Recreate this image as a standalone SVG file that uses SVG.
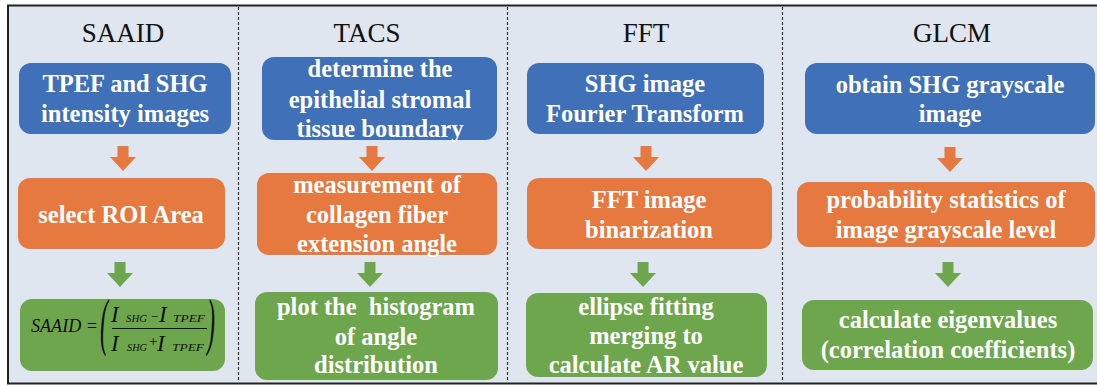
<svg xmlns="http://www.w3.org/2000/svg" xmlns:xlink="http://www.w3.org/1999/xlink" width="1097" height="386" viewBox="0 0 1097 386">
  <style>
    .title { font-family: "Liberation Serif", "Times New Roman", serif; font-size: 27px; fill: #111; text-anchor: middle; }
    .lbl { font-family: "Liberation Serif", "Times New Roman", serif; font-size: 24.5px; font-weight: bold; fill: #fff; text-anchor: middle; }
    .blue { fill: #4070b8; }
    .orange { fill: #e6793f; }
    .green { fill: #6ea64e; }
    .divider { stroke: #333; stroke-width: 1.2; stroke-dasharray: 3 2; fill: none; }
    .math { font-family: "Liberation Serif", "Times New Roman", serif; font-style: italic; fill: #111; }
  </style>
  <defs>
    <!-- block arrow pointing down, origin at top centre -->
    <path id="arrow" d="M-5.5,0 H5.5 V11 H13 L0,25 L-13,11 H-5.5 Z"/>
  </defs>

  <rect x="0" y="0" width="1097" height="386" fill="#ffffff"/>
  <rect x="8" y="5.5" width="1100" height="378" fill="#dfe6ef" stroke="#222" stroke-width="2"/>

  <!-- column separators -->
  <g id="dividers">
    <line class="divider" x1="238.5" y1="7" x2="238.5" y2="382"/>
    <line class="divider" x1="507.5" y1="7" x2="507.5" y2="382"/>
    <line class="divider" x1="782.5" y1="7" x2="782.5" y2="382"/>
  </g>

  <!-- column headings -->
  <g id="titles">
    <text class="title" x="123" y="42">SAAID</text>
    <text class="title" x="367" y="42">TACS</text>
    <text class="title" x="646" y="42">FFT</text>
    <text class="title" x="952" y="42">GLCM</text>
  </g>

  <!-- SAAID column -->
  <g id="saaid-input">
    <rect class="blue" x="19" y="63" width="212" height="71" rx="12"/>
    <text class="lbl" x="125" y="92">TPEF and SHG</text>
    <text class="lbl" x="125" y="122">intensity images</text>
  </g>
  <g id="saaid-roi">
    <rect class="orange" x="18" y="178" width="207" height="71" rx="12"/>
    <text class="lbl" x="121" y="223">select ROI Area</text>
  </g>
  <g id="saaid-formula">
    <rect class="green" x="20" y="299" width="205" height="72" rx="12"/>
    <text class="math" x="31" y="332" font-size="18" textLength="67" lengthAdjust="spacingAndGlyphs">SAAID =</text>
    <text class="math" font-size="24" transform="translate(100,343) scale(1,2.6)" font-style="normal">(</text>
    <text class="math" font-size="24" transform="translate(207,343) scale(1,2.6)" font-style="normal">)</text>
    <line x1="112" y1="328.5" x2="207" y2="328.5" stroke="#111" stroke-width="1.1"/>
    <text class="math" font-size="23" x="111" y="322">I</text>
    <text class="math" font-size="10" x="126" y="322" textLength="21" lengthAdjust="spacingAndGlyphs">SHG</text>
    <text class="math" font-size="13" x="150" y="321" font-style="normal">−</text>
    <text class="math" font-size="23" x="159" y="322">I</text>
    <text class="math" font-size="10" x="173" y="322" textLength="32" lengthAdjust="spacingAndGlyphs">TPEF</text>
    <text class="math" font-size="23" x="111" y="351">I</text>
    <text class="math" font-size="10" x="127" y="351" textLength="20" lengthAdjust="spacingAndGlyphs">SHG</text>
    <text class="math" font-size="15" x="148" y="346" font-style="normal">+</text>
    <text class="math" font-size="23" x="157" y="351">I</text>
    <text class="math" font-size="10" x="172" y="351" textLength="32" lengthAdjust="spacingAndGlyphs">TPEF</text>
  </g>

  <!-- TACS column -->
  <g id="tacs-boundary">
    <rect class="blue" x="262" y="57" width="235" height="83" rx="12"/>
    <text class="lbl" x="380" y="77">determine the</text>
    <text class="lbl" x="380" y="108">epithelial stromal</text>
    <text class="lbl" x="380" y="137">tissue boundary</text>
  </g>
  <g id="tacs-angle">
    <rect class="orange" x="257" y="173" width="240" height="82" rx="12"/>
    <text class="lbl" x="377" y="193">measurement of</text>
    <text class="lbl" x="377" y="223">collagen fiber</text>
    <text class="lbl" x="377" y="252">extension angle</text>
  </g>
  <g id="tacs-histogram">
    <rect class="green" x="255" y="292" width="243" height="88" rx="12"/>
    <text class="lbl" x="376" y="315" xml:space="preserve">plot the  histogram</text>
    <text class="lbl" x="376" y="345">of angle</text>
    <text class="lbl" x="376" y="373">distribution</text>
  </g>

  <!-- FFT column -->
  <g id="fft-transform">
    <rect class="blue" x="527" y="63" width="237" height="71" rx="12"/>
    <text class="lbl" x="645" y="92">SHG image</text>
    <text class="lbl" x="645" y="122">Fourier Transform</text>
  </g>
  <g id="fft-binarize">
    <rect class="orange" x="527" y="178" width="245" height="71" rx="12"/>
    <text class="lbl" x="649" y="208">FFT image</text>
    <text class="lbl" x="649" y="238">binarization</text>
  </g>
  <g id="fft-ellipse">
    <rect class="green" x="526" y="293" width="241" height="84" rx="12"/>
    <text class="lbl" x="646" y="315">ellipse fitting</text>
    <text class="lbl" x="646" y="344">merging to</text>
    <text class="lbl" x="646" y="373">calculate AR value</text>
  </g>

  <!-- GLCM column -->
  <g id="glcm-grayscale">
    <rect class="blue" x="805" y="63" width="290" height="71" rx="12"/>
    <text class="lbl" x="950" y="93">obtain SHG grayscale</text>
    <text class="lbl" x="950" y="122">image</text>
  </g>
  <g id="glcm-statistics">
    <rect class="orange" x="797" y="182" width="298" height="65" rx="12"/>
    <text class="lbl" x="946" y="208">probability statistics of</text>
    <text class="lbl" x="946" y="238">image grayscale level</text>
  </g>
  <g id="glcm-eigen">
    <rect class="green" x="802" y="300" width="291" height="70" rx="12"/>
    <text class="lbl" x="948" y="328">calculate eigenvalues</text>
    <text class="lbl" x="948" y="358">(correlation coefficients)</text>
  </g>

  <!-- flow arrows -->
  <g id="connectors">
    <use xlink:href="#arrow" x="123" y="146" class="orange"/>
    <use xlink:href="#arrow" x="120" y="262" class="green"/>
    <use xlink:href="#arrow" x="372" y="146" class="orange"/>
    <use xlink:href="#arrow" x="370" y="262" class="green"/>
    <use xlink:href="#arrow" x="646" y="146" class="orange"/>
    <use xlink:href="#arrow" x="643" y="262" class="green"/>
    <use xlink:href="#arrow" x="950" y="147" class="orange"/>
    <use xlink:href="#arrow" x="948" y="262" class="green"/>
  </g>
</svg>
